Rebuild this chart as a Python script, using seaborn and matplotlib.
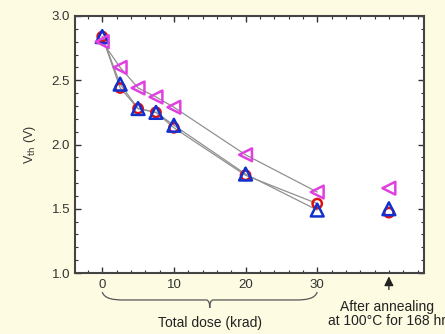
import numpy as np
import pandas as pd
import matplotlib
matplotlib.use("Agg")
import matplotlib.pyplot as plt
from matplotlib.path import Path
from matplotlib.patches import PathPatch
from matplotlib.ticker import MultipleLocator
import seaborn as sns

# ---- data ----
dose = [0, 2.5, 5, 7.5, 10, 20, 30]
anneal_x = 40
red_vth = [2.84, 2.44, 2.28, 2.25, 2.13, 1.76, 1.54]
blue_vth = [2.84, 2.47, 2.28, 2.25, 2.15, 1.77, 1.49]
magenta_vth = [2.80, 2.60, 2.44, 2.37, 2.29, 1.92, 1.63]
red_anneal = 1.47
blue_anneal = 1.50
magenta_anneal = 1.66
series_names = ["red", "blue", "magenta"]
y_ticks = [1.0, 1.5, 2.0, 2.5, 3.0]
x_ticks = [0, 10, 20, 30]

sns.set_theme(style="white")
plt.rcParams['font.family'] = ['Liberation Sans', 'DejaVu Sans']

fig = plt.figure(figsize=(4.45, 3.34), dpi=100)
fig.patch.set_facecolor("#fdfbe2")
ax = fig.add_axes([75/445, 1 - 273/334, (424-75)/445, (273-16)/334])
ax.set_facecolor("white")

rows = []
for name, vals, av in zip(series_names,
                          [red_vth, blue_vth, magenta_vth],
                          [red_anneal, blue_anneal, magenta_anneal]):
    for d, v in zip(dose, vals):
        rows.append(dict(series=name, dose=d, vth=v, phase="irr"))
    rows.append(dict(series=name, dose=anneal_x, vth=av, phase="ann"))
df = pd.DataFrame(rows)

irr = df[df.phase == "irr"]
sns.lineplot(data=irr, x="dose", y="vth", units="series", estimator=None,
             color="#909090", linewidth=0.9, ax=ax, legend=False)

styles = {"red": ("o", "#e01010", 45), "blue": ("^", "#1030d0", 85),
          "magenta": ("<", "#e040e0", 85)}
for name in series_names:
    m, c, sz = styles[name]
    sub = df[df.series == name]
    sns.scatterplot(data=sub, x="dose", y="vth", marker=m, s=sz,
                    facecolors="none", edgecolor=c, linewidth=1.8,
                    ax=ax, legend=False, zorder=3)

ax.set_xlim(-3.8, 44.9)
ax.set_ylim(1.0, 3.0)
ax.set_xticks(x_ticks)
ax.set_yticks(y_ticks)
ax.set_yticklabels([f"{t:.1f}" for t in y_ticks])
ax.xaxis.set_minor_locator(MultipleLocator(2))
ax.yaxis.set_minor_locator(MultipleLocator(0.1))
ax.tick_params(which="both", direction="in", top=True, right=True,
               bottom=True, left=True, colors="#333333", labelsize=9.5,
               labelcolor="#333333")
ax.tick_params(which="major", length=4, width=1)
ax.tick_params(which="minor", length=2, width=0.8)
ax.tick_params(axis="x", which="major", pad=4)
for s in ax.spines.values():
    s.set_color("#444444")
    s.set_linewidth(1.5)
ax.set_xlabel("")
ax.set_ylabel("V$_{\\mathrm{th}}$ (V)", fontsize=9, color="#333333", labelpad=10)

# brace under 0..30
yt, ym, yb = 0.852, 0.79, 0.728
verts = [(0, yt), (0.3, 0.80), (1.5, ym), (3, ym),
         (12, ym), (14, ym), (14.5, ym),
         (14.9, ym), (15, 0.76), (15, yb),
         (15, 0.76), (15.1, ym), (15.5, ym),
         (16, ym), (18, ym), (27, ym),
         (28.5, ym), (29.7, 0.80), (30, yt)]
codes = [Path.MOVETO] + [Path.CURVE4] * 18
brace = PathPatch(Path(verts, codes), facecolor="none", edgecolor="#555555",
                  linewidth=0.9, clip_on=False)
ax.add_patch(brace)
ax.text(15, 0.61, "Total dose (krad)", ha="center", va="center",
        fontsize=10, color="#222222", clip_on=False)

# annealing arrow and text
ax.annotate("", xy=(anneal_x, 0.995), xytext=(anneal_x, 0.85),
            xycoords="data", textcoords="data",
            arrowprops=dict(arrowstyle="-|>", color="#222222", lw=0.9,
                            mutation_scale=14), annotation_clip=False)
ax.text(anneal_x - 0.2, 0.68, "After annealing\nat 100\u00b0C for 168 hr",
        ha="center", va="center", fontsize=10, color="#222222",
        linespacing=1.05, clip_on=False)

fig.savefig("out.png", dpi=100, facecolor=fig.get_facecolor())
